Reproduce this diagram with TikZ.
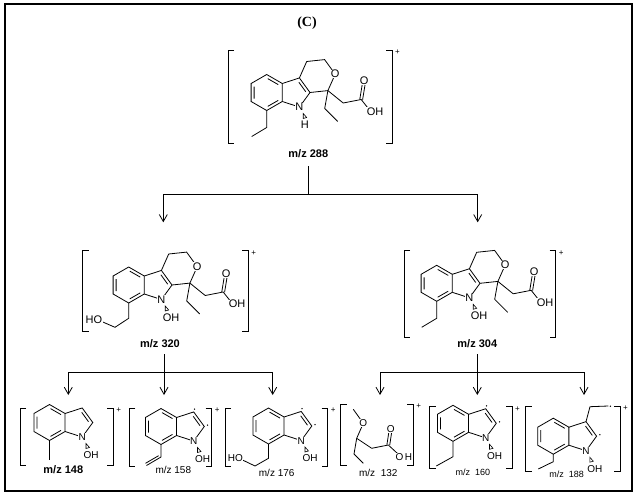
\documentclass[tikz,border=0pt]{standalone}
\usepackage{fontspec}
\setmainfont{Liberation Sans}
\newfontfamily\titlefont{Liberation Serif}
\usetikzlibrary{%
  arrows.meta%
}

\tikzset{
  bond/.style={line width=0.8pt},
  atom/.style={fill=white,inner sep=0.4pt,font=\fontsize{11}{11}\selectfont},
  small atoms/.style={atom/.append style={font=\fontsize{10}{10}\selectfont}},
  mzb/.style={inner sep=1pt,font=\fontsize{11}{11}\selectfont\bfseries},
  mzl/.style={inner sep=1pt,font=\fontsize{10}{10}\selectfont},
  charge/.style={inner sep=0pt,font=\fontsize{8}{8}\selectfont},
  arr/.style={line width=0.8pt,-{Straight Barb[length=7pt,width=8pt]}}
}

% indole core, benzene centre at (0,0)
\newcommand{\indolering}[1]{%
  \draw[bond] (0,-18) -- (15.59,-9) -- (15.59,9) -- (0,18) -- (-15.59,9) -- (-15.59,-9) -- cycle;
  \draw[bond] (-12.6,-6) -- (-12.6,6) (1,-13.9) -- (11.5,-7.9) (1,13.9) -- (11.5,7.9);
  \draw[bond] (15.59,-9) -- (32.71,-14.56) -- (43.29,0) -- (32.71,14.56) -- (15.59,9);
  \draw[bond] (32.2,-10.2) -- (39,-0.8);
  \node[atom] (#1) at (32.71,14.56) {N};
}
% group on the nitrogen
\newcommand{\nsub}[2]{%
  \draw[line width=0.6pt] (36.5,21) -- (36.5,26) -- (40,25) -- cycle;
  \node[atom,anchor=west] (#1) at (33.5,32.5) {#2};
}
% pyran ring with ethyl and acetic acid
\newcommand{\pyranacid}[1]{%
  \draw[bond] (32.71,-14.56) -- (40,-31) -- (57.9,-32.9) -- (68.5,-18.3) -- (61.2,-1.9) -- (43.29,0);
  \draw[bond] (61.2,-1.9) -- (58,16) -- (71,29);
  \draw[bond] (61.2,-1.9) -- (76.5,10.5) -- (94.5,7) -- (104,19);
  \draw[bond] (95.9,7.2) -- (98.9,-11.1) (93.1,6.8) -- (96.1,-11.5);
  \node[atom] (#1o) at (68.5,-18.3) {O};
  \node[atom] (#1c) at (97.5,-11.3) {O};
  \node[atom,anchor=west] (#1h) at (99.5,19) {OH};
}
\newcommand{\brackets}[5]{%
  \draw[bond] (#1+6,#3) -- (#1,#3) -- (#1,#4) -- (#1+6,#4);
  \draw[bond] (#2-6,#3) -- (#2,#3) -- (#2,#4) -- (#2-6,#4);
  \node[charge] (#5) at (#2+5.5,#3+2) {+};
}

\begin{document}
\begin{tikzpicture}[x=1pt,y=-1pt]
  \useasboundingbox (0,0) rectangle (638,498);
  \draw[line width=1.2pt] (5,4) rectangle (632,491);
  \node[font=\titlefont\fontsize{14}{14}\selectfont\bfseries] (title) at (307,23) {(C)};

  % m/z 288
  \begin{scope}[shift={(266.7,92.5)}]
    \indolering{n288}
    \nsub{h288}{H}
    \pyranacid{p288}
    \draw[bond] (0,18) -- (0,35) -- (-15,44);
  \end{scope}
  \brackets{228}{392}{50}{143}{c288}
  \node[mzb] (m288) at (308.3,154) {m/z 288};

  % m/z 320
  \begin{scope}[shift={(128.7,285)}]
    \indolering{n320}
    \nsub{o320}{OH}
    \pyranacid{p320}
    \draw[bond] (0,18) -- (0,33.3) -- (-13.7,42.3) -- (-30.5,35);
    \node[atom,anchor=east] (ho320) at (-26,35) {HO};
  \end{scope}
  \brackets{82.7}{248.3}{250.7}{331.7}{c320}
  \node[mzb] (m320) at (160,344) {m/z 320};

  % m/z 304
  \begin{scope}[shift={(436.7,283.3)}]
    \indolering{n304}
    \nsub{o304}{OH}
    \pyranacid{p304}
    \draw[bond] (0,18) -- (0,35) -- (-15,44);
  \end{scope}
  \brackets{404}{555.7}{250.7}{337.3}{c304}
  \node[mzb] (m304) at (477.3,344) {m/z 304};

  % m/z 148
  \begin{scope}[shift={(49.5,422.5)},small atoms]
    \indolering{n148}
    \nsub{o148}{OH}
    \draw[bond] (0,18) -- (0,37.5);
  \end{scope}
  \brackets{20}{113.3}{408.3}{465}{c148}
  \node[mzb] (m148) at (63.3,470) {m/z 148};

  % m/z 158
  \begin{scope}[shift={(161,426.5)},small atoms]
    \indolering{n158}
    \nsub{o158}{OH}
    \draw[bond] (0,18) -- (0,30.5) -- (-14.5,39);
    \draw[bond] (-2.4,29.2) -- (-15.5,36.8);
    \fill (33.5,-17.5) circle[radius=0.75pt] (46.5,-1.5) circle[radius=0.75pt];
  \end{scope}
  \brackets{129.3}{211.7}{408.3}{466.7}{c158}
  \node[mzl] (m158) at (173.3,470) {m/z 158};

  % m/z 176
  \begin{scope}[shift={(268.5,426)},small atoms]
    \indolering{n176}
    \nsub{o176}{OH}
    \draw[bond] (0,18) -- (0,32.3) -- (-13.5,40) -- (-29.5,32.3);
    \node[atom,anchor=east] (ho176) at (-25,32.3) {HO};
    \fill (33.5,-17.5) circle[radius=0.75pt] (46.5,-1.5) circle[radius=0.75pt];
  \end{scope}
  \brackets{225}{327.7}{408.3}{466.7}{c176}
  \node[mzl] (m176) at (276.7,473.3) {m/z 176};

  % m/z 132
  \begin{scope}[small atoms]
    \draw[bond] (353.3,409.3) -- (363.3,423.3) -- (356.7,438.3) -- (371.7,448.3) -- (388.3,445) -- (401,456.7);
    \draw[bond] (356.7,438.3) -- (354,454) -- (363.3,463.3);
    \draw[bond] (389.7,445.2) -- (392.1,429.5) (386.9,444.8) -- (389.3,429.1);
    \node[atom] (o132) at (363.3,423.3) {O};
    \node[atom] (k132) at (390.7,429.3) {O};
    \node[atom,anchor=west] (oh132) at (395,456.7) {O\kern1.5pt H};
  \end{scope}
  \brackets{340.7}{413.3}{404}{465}{c132}
  \node[mzl] (m132) at (378.3,473.3) {m/z\ \ 132};

  % m/z 160
  \begin{scope}[shift={(453,423.3)},small atoms]
    \indolering{n160}
    \nsub{o160}{OH}
    \draw[bond] (0,18) -- (0,33.4) -- (-16.7,42.7);
    \fill (33.5,-17.5) circle[radius=0.75pt] (46.5,-1.5) circle[radius=0.75pt];
  \end{scope}
  \brackets{429.7}{512}{406.7}{468.3}{c160}
  \node[mzl,font=\fontsize{9}{9}\selectfont] (m160) at (473,472.7) {m/z\ \ 160};

  % m/z 188
  \begin{scope}[shift={(553.3,436.2)},small atoms]
    \indolering{n188}
    \nsub{o188}{OH}
    \draw[bond] (0,18) -- (0,25.5) -- (-15,32.8);
    \draw[bond] (32.71,-14.56) -- (36.7,-29.5) -- (55,-30.2);
    \fill (57,-30) circle[radius=0.75pt] (46.5,-1.5) circle[radius=0.75pt];
  \end{scope}
  \brackets{525.7}{620}{406}{471.7}{c188}
  \node[mzl,font=\fontsize{9}{9}\selectfont] (m188) at (566.7,474.3) {m/z\ \ 188};

  % fragmentation arrows
  \coordinate (j288) at (308.3,194.3);
  \coordinate (t320) at (163.3,222.3);
  \coordinate (t304) at (477.7,222.3);
  \draw[bond] (j288 |- m288.south) ++(0,7) -- (j288);
  \draw[arr] (j288) -| (t320);
  \draw[arr] (j288) -| (t304);

  \coordinate (j320) at (164,372.3);
  \coordinate (t148) at (68.3,395);
  \coordinate (t158) at (164,395);
  \coordinate (t176) at (272.7,395);
  \draw[bond] (j320 |- m320.south) ++(0,5) -- (j320);
  \draw[arr] (j320) -| (t148);
  \draw[arr] (j320) -- (t158);
  \draw[arr] (j320) -| (t176);

  \coordinate (j304) at (477.3,372.3);
  \coordinate (t132) at (380,395);
  \coordinate (t160) at (477.3,395);
  \coordinate (t188) at (584,395);
  \draw[bond] (j304 |- m304.south) ++(0,5) -- (j304);
  \draw[arr] (j304) -| (t132);
  \draw[arr] (j304) -- (t160);
  \draw[arr] (j304) -| (t188);
\end{tikzpicture}
\end{document}
